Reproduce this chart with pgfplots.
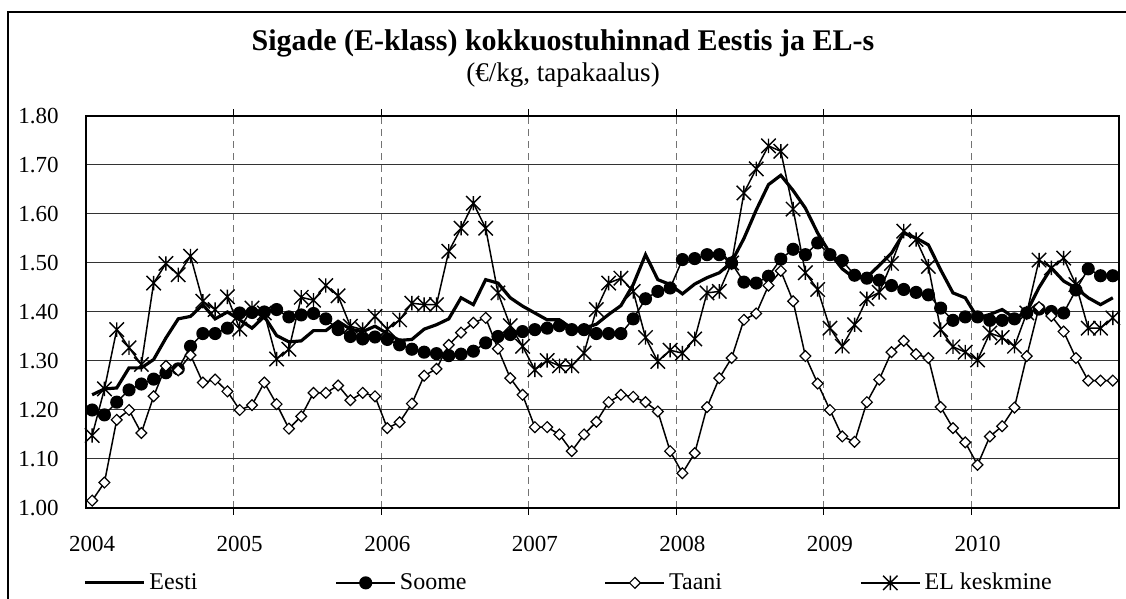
\documentclass[border=0pt]{standalone}
\usepackage{fontspec}
\setmainfont{Liberation Serif}
\usepackage{pgfplots}
\usepackage{pgfplotstable}
\pgfplotsset{compat=1.18}

% Excel-like markers
\pgfdeclareplotmark{exstar}{%
  \pgfpathmoveto{\pgfqpoint{0pt}{\pgfplotmarksize}}%
  \pgfpathlineto{\pgfqpoint{0pt}{-\pgfplotmarksize}}%
  \pgfpathmoveto{\pgfqpoint{-\pgfplotmarksize}{\pgfplotmarksize}}%
  \pgfpathlineto{\pgfqpoint{\pgfplotmarksize}{-\pgfplotmarksize}}%
  \pgfpathmoveto{\pgfqpoint{-\pgfplotmarksize}{-\pgfplotmarksize}}%
  \pgfpathlineto{\pgfqpoint{\pgfplotmarksize}{\pgfplotmarksize}}%
  \pgfusepathqstroke}
\pgfdeclareplotmark{exdiamond}{%
  \pgfpathmoveto{\pgfqpoint{0pt}{\pgfplotmarksize}}%
  \pgfpathlineto{\pgfqpoint{\pgfplotmarksize}{0pt}}%
  \pgfpathlineto{\pgfqpoint{0pt}{-\pgfplotmarksize}}%
  \pgfpathlineto{\pgfqpoint{-\pgfplotmarksize}{0pt}}%
  \pgfpathclose
  \pgfusepathqfillstroke}

% months Jan 2004 ... Dec 2010 (m = month index + 0.5)
\pgfplotstableread{
m eesti soome taani el
0.5 1.231 1.200 1.015 1.148
1.5 1.243 1.190 1.052 1.243
2.5 1.245 1.216 1.180 1.364
3.5 1.286 1.241 1.200 1.327
4.5 1.286 1.253 1.153 1.293
5.5 1.303 1.263 1.228 1.459
6.5 1.347 1.276 1.290 1.499
7.5 1.386 1.284 1.281 1.476
8.5 1.391 1.330 1.312 1.514
9.5 1.415 1.356 1.256 1.422
10.5 1.386 1.356 1.262 1.405
11.5 1.400 1.367 1.238 1.431
12.5 1.384 1.398 1.200 1.365
13.5 1.367 1.399 1.210 1.408
14.5 1.391 1.400 1.256 1.398
15.5 1.352 1.405 1.212 1.304
16.5 1.339 1.390 1.162 1.324
17.5 1.341 1.394 1.187 1.430
18.5 1.362 1.397 1.235 1.424
19.5 1.362 1.386 1.235 1.454
20.5 1.381 1.364 1.250 1.433
21.5 1.365 1.350 1.220 1.371
22.5 1.360 1.345 1.235 1.364
23.5 1.371 1.349 1.228 1.391
24.5 1.356 1.344 1.163 1.365
25.5 1.342 1.333 1.175 1.384
26.5 1.344 1.324 1.213 1.418
27.5 1.365 1.318 1.270 1.415
28.5 1.374 1.315 1.284 1.415
29.5 1.386 1.311 1.333 1.524
30.5 1.429 1.314 1.358 1.571
31.5 1.415 1.320 1.378 1.622
32.5 1.466 1.337 1.388 1.571
33.5 1.459 1.350 1.325 1.439
34.5 1.429 1.354 1.265 1.372
35.5 1.412 1.360 1.231 1.330
36.5 1.398 1.364 1.165 1.282
37.5 1.384 1.367 1.165 1.301
38.5 1.384 1.372 1.150 1.290
39.5 1.367 1.364 1.116 1.290
40.5 1.367 1.364 1.150 1.316
41.5 1.375 1.356 1.176 1.405
42.5 1.395 1.356 1.216 1.459
43.5 1.413 1.356 1.231 1.469
44.5 1.456 1.386 1.227 1.442
45.5 1.517 1.427 1.216 1.348
46.5 1.466 1.442 1.197 1.299
47.5 1.456 1.449 1.116 1.322
48.5 1.437 1.507 1.071 1.316
49.5 1.457 1.509 1.112 1.345
50.5 1.470 1.517 1.206 1.439
51.5 1.480 1.517 1.265 1.442
52.5 1.502 1.500 1.306 1.500
53.5 1.550 1.461 1.384 1.643
54.5 1.608 1.459 1.397 1.692
55.5 1.660 1.473 1.454 1.739
56.5 1.679 1.508 1.484 1.728
57.5 1.648 1.528 1.422 1.610
58.5 1.612 1.517 1.310 1.480
59.5 1.561 1.541 1.254 1.446
60.5 1.520 1.517 1.200 1.367
61.5 1.488 1.505 1.146 1.330
62.5 1.469 1.475 1.135 1.374
63.5 1.471 1.469 1.216 1.427
64.5 1.495 1.465 1.262 1.440
65.5 1.520 1.454 1.318 1.499
66.5 1.561 1.446 1.341 1.565
67.5 1.551 1.440 1.314 1.548
68.5 1.537 1.435 1.306 1.493
69.5 1.486 1.408 1.206 1.364
70.5 1.439 1.383 1.163 1.329
71.5 1.429 1.390 1.134 1.318
72.5 1.388 1.390 1.088 1.302
73.5 1.395 1.383 1.146 1.357
74.5 1.405 1.383 1.167 1.348
75.5 1.388 1.386 1.205 1.330
76.5 1.400 1.398 1.310 1.398
77.5 1.450 1.406 1.410 1.506
78.5 1.490 1.401 1.392 1.490
79.5 1.463 1.398 1.360 1.510
80.5 1.449 1.445 1.306 1.456
81.5 1.429 1.488 1.260 1.367
82.5 1.415 1.474 1.260 1.367
83.5 1.429 1.474 1.260 1.388
}\hinnad

\begin{document}
\begin{tikzpicture}
\useasboundingbox (0,0) rectangle (563pt,299.5pt);
% chart frame (cut at right and bottom, as in the original)
\draw[line width=0.9pt] (4pt,-20pt) -- (4pt,293.5pt) -- (620pt,293.5pt);
\node[anchor=base,font=\fontsize{15}{17}\selectfont\bfseries] at (281.5pt,274pt)
  {Sigade (E-klass) kokkuostuhinnad Eestis ja EL-s};
\node[anchor=base,font=\fontsize{13.5}{16}\selectfont] at (281.5pt,258.5pt)
  {(€/kg, tapakaalus)};

\begin{axis}[
  at={(43pt,45.5pt)}, anchor=south west,
  scale only axis, width=516.5pt, height=196pt,
  xmin=0, xmax=84, ymin=1, ymax=1.8,
  axis line style={black, line width=0.6pt},
  xtick={12,24,36,48,60,72}, xticklabels={},
  tick align=outside, major tick length=3.5pt,
  x tick style={black, line width=0.6pt},
  extra x ticks={0.5,12.5,24.5,36.5,48.5,60.5,72.5},
  extra x tick labels={2004,2005,2006,2007,2008,2009,2010},
  extra x tick style={grid=none, major tick length=0pt,
    xticklabel style={yshift=-10.7pt}},
  xmajorgrids,
  x grid style={black!55, dash pattern=on 3.5pt off 2.5pt, line width=0.6pt},
  ytick={1,1.1,1.2,1.3,1.4,1.5,1.6,1.7,1.8},
  ytick style={draw=none},
  ymajorgrids,
  y grid style={black!80, line width=0.5pt},
  /pgf/number format/assume math mode=true,
  yticklabel style={/pgf/number format/fixed,
    /pgf/number format/fixed zerofill,
    /pgf/number format/precision=2, xshift=-6.7pt},
  tick label style={font=\fontsize{11.5}{13}\selectfont},
  legend columns=4,
  legend style={draw=none, fill=none, at={(-0.003,-0.191)}, anchor=west,
    inner xsep=0pt, inner ysep=0pt,
    font=\fontsize{12}{14}\selectfont,
    /tikz/every even column/.append style={column sep=67pt}},
  legend image code/.code={%
    \draw[mark repeat=2,mark phase=2,#1]
      plot coordinates {(0pt,0pt) (14.75pt,0pt) (29.5pt,0pt)};},
]
\addplot[black, line width=1.6pt, no markers] table[x=m, y=eesti] {\hinnad};
\addlegendentry{Eesti}
\addplot[black, line width=0.75pt, mark=*, mark size=2.9pt] table[x=m, y=soome] {\hinnad};
\addlegendentry{Soome}
\addplot[black, line width=0.75pt, mark=exdiamond, mark size=2.7pt,
  mark options={fill=white, line width=0.6pt}] table[x=m, y=taani] {\hinnad};
\addlegendentry{Taani}
\addplot[black, line width=0.75pt, mark=exstar, mark size=3.6pt,
  mark options={line width=0.7pt}] table[x=m, y=el] {\hinnad};
\addlegendentry{EL keskmine}
\end{axis}
\end{tikzpicture}
\end{document}
